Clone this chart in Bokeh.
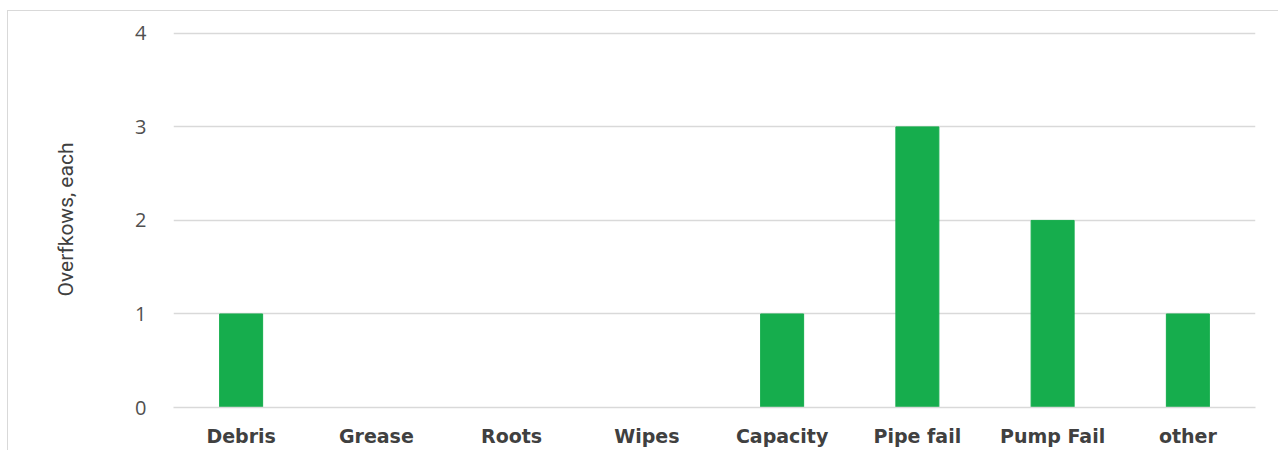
from bokeh.plotting import figure
from bokeh.embed import file_html
from bokeh.resources import INLINE
from bokeh.models import ColumnDataSource, FixedTicker, Range1d

categories = ["Debris", "Grease", "Roots", "Wipes", "Capacity", "Pipe fail", "Pump Fail", "other"]
overflows = [1, 0, 0, 0, 1, 3, 2, 1]
y_ticks = [0, 1, 2, 3, 4]

src = ColumnDataSource(dict(cat=categories, val=overflows))

p = figure(x_range=categories, y_range=Range1d(0, 4.02), width=1271, height=440,
           output_backend="svg", toolbar_location=None,
           min_border_left=165, min_border_right=24, min_border_top=20, min_border_bottom=44)
p.styles = {"margin-left": "7px", "margin-top": "10px",
            "border-left": "1px solid #d9d9d9", "border-top": "1px solid #d9d9d9"}

p.vbar(x="cat", top="val", width=0.318, source=src, color="#16AD4D")

p.outline_line_color = None
p.xgrid.grid_line_color = None
p.ygrid.grid_line_color = "#d9d9d9"
p.ygrid.grid_line_width = 1.5

p.yaxis.ticker = FixedTicker(ticks=y_ticks)
p.yaxis.axis_line_color = None
p.yaxis.major_tick_line_color = None
p.yaxis.minor_tick_line_color = None
p.yaxis.major_label_text_font = "Open Sans"
p.yaxis.major_label_text_font_size = "20px"
p.yaxis.major_label_text_color = "#505050"
p.yaxis.major_label_standoff = 21
p.yaxis.axis_label = "Overfkows, each"
p.yaxis.axis_label_text_font = "Roboto"
p.yaxis.axis_label_text_font_style = "normal"
p.yaxis.axis_label_text_font_size = "21px"
p.yaxis.axis_label_text_color = "#404040"
p.yaxis.axis_label_standoff = 54

p.xaxis.axis_line_color = "#d9d9d9"
p.xaxis.axis_line_width = 1.5
p.xaxis.major_tick_line_color = None
p.xaxis.minor_tick_line_color = None
p.xaxis.major_label_text_font = "DejaVu Sans"
p.xaxis.major_label_text_font_style = "bold"
p.xaxis.major_label_text_font_size = "19px"
p.xaxis.major_label_text_color = "#404040"
p.xaxis.major_label_standoff = 11

open("out.html", "w").write(file_html(p, INLINE))
